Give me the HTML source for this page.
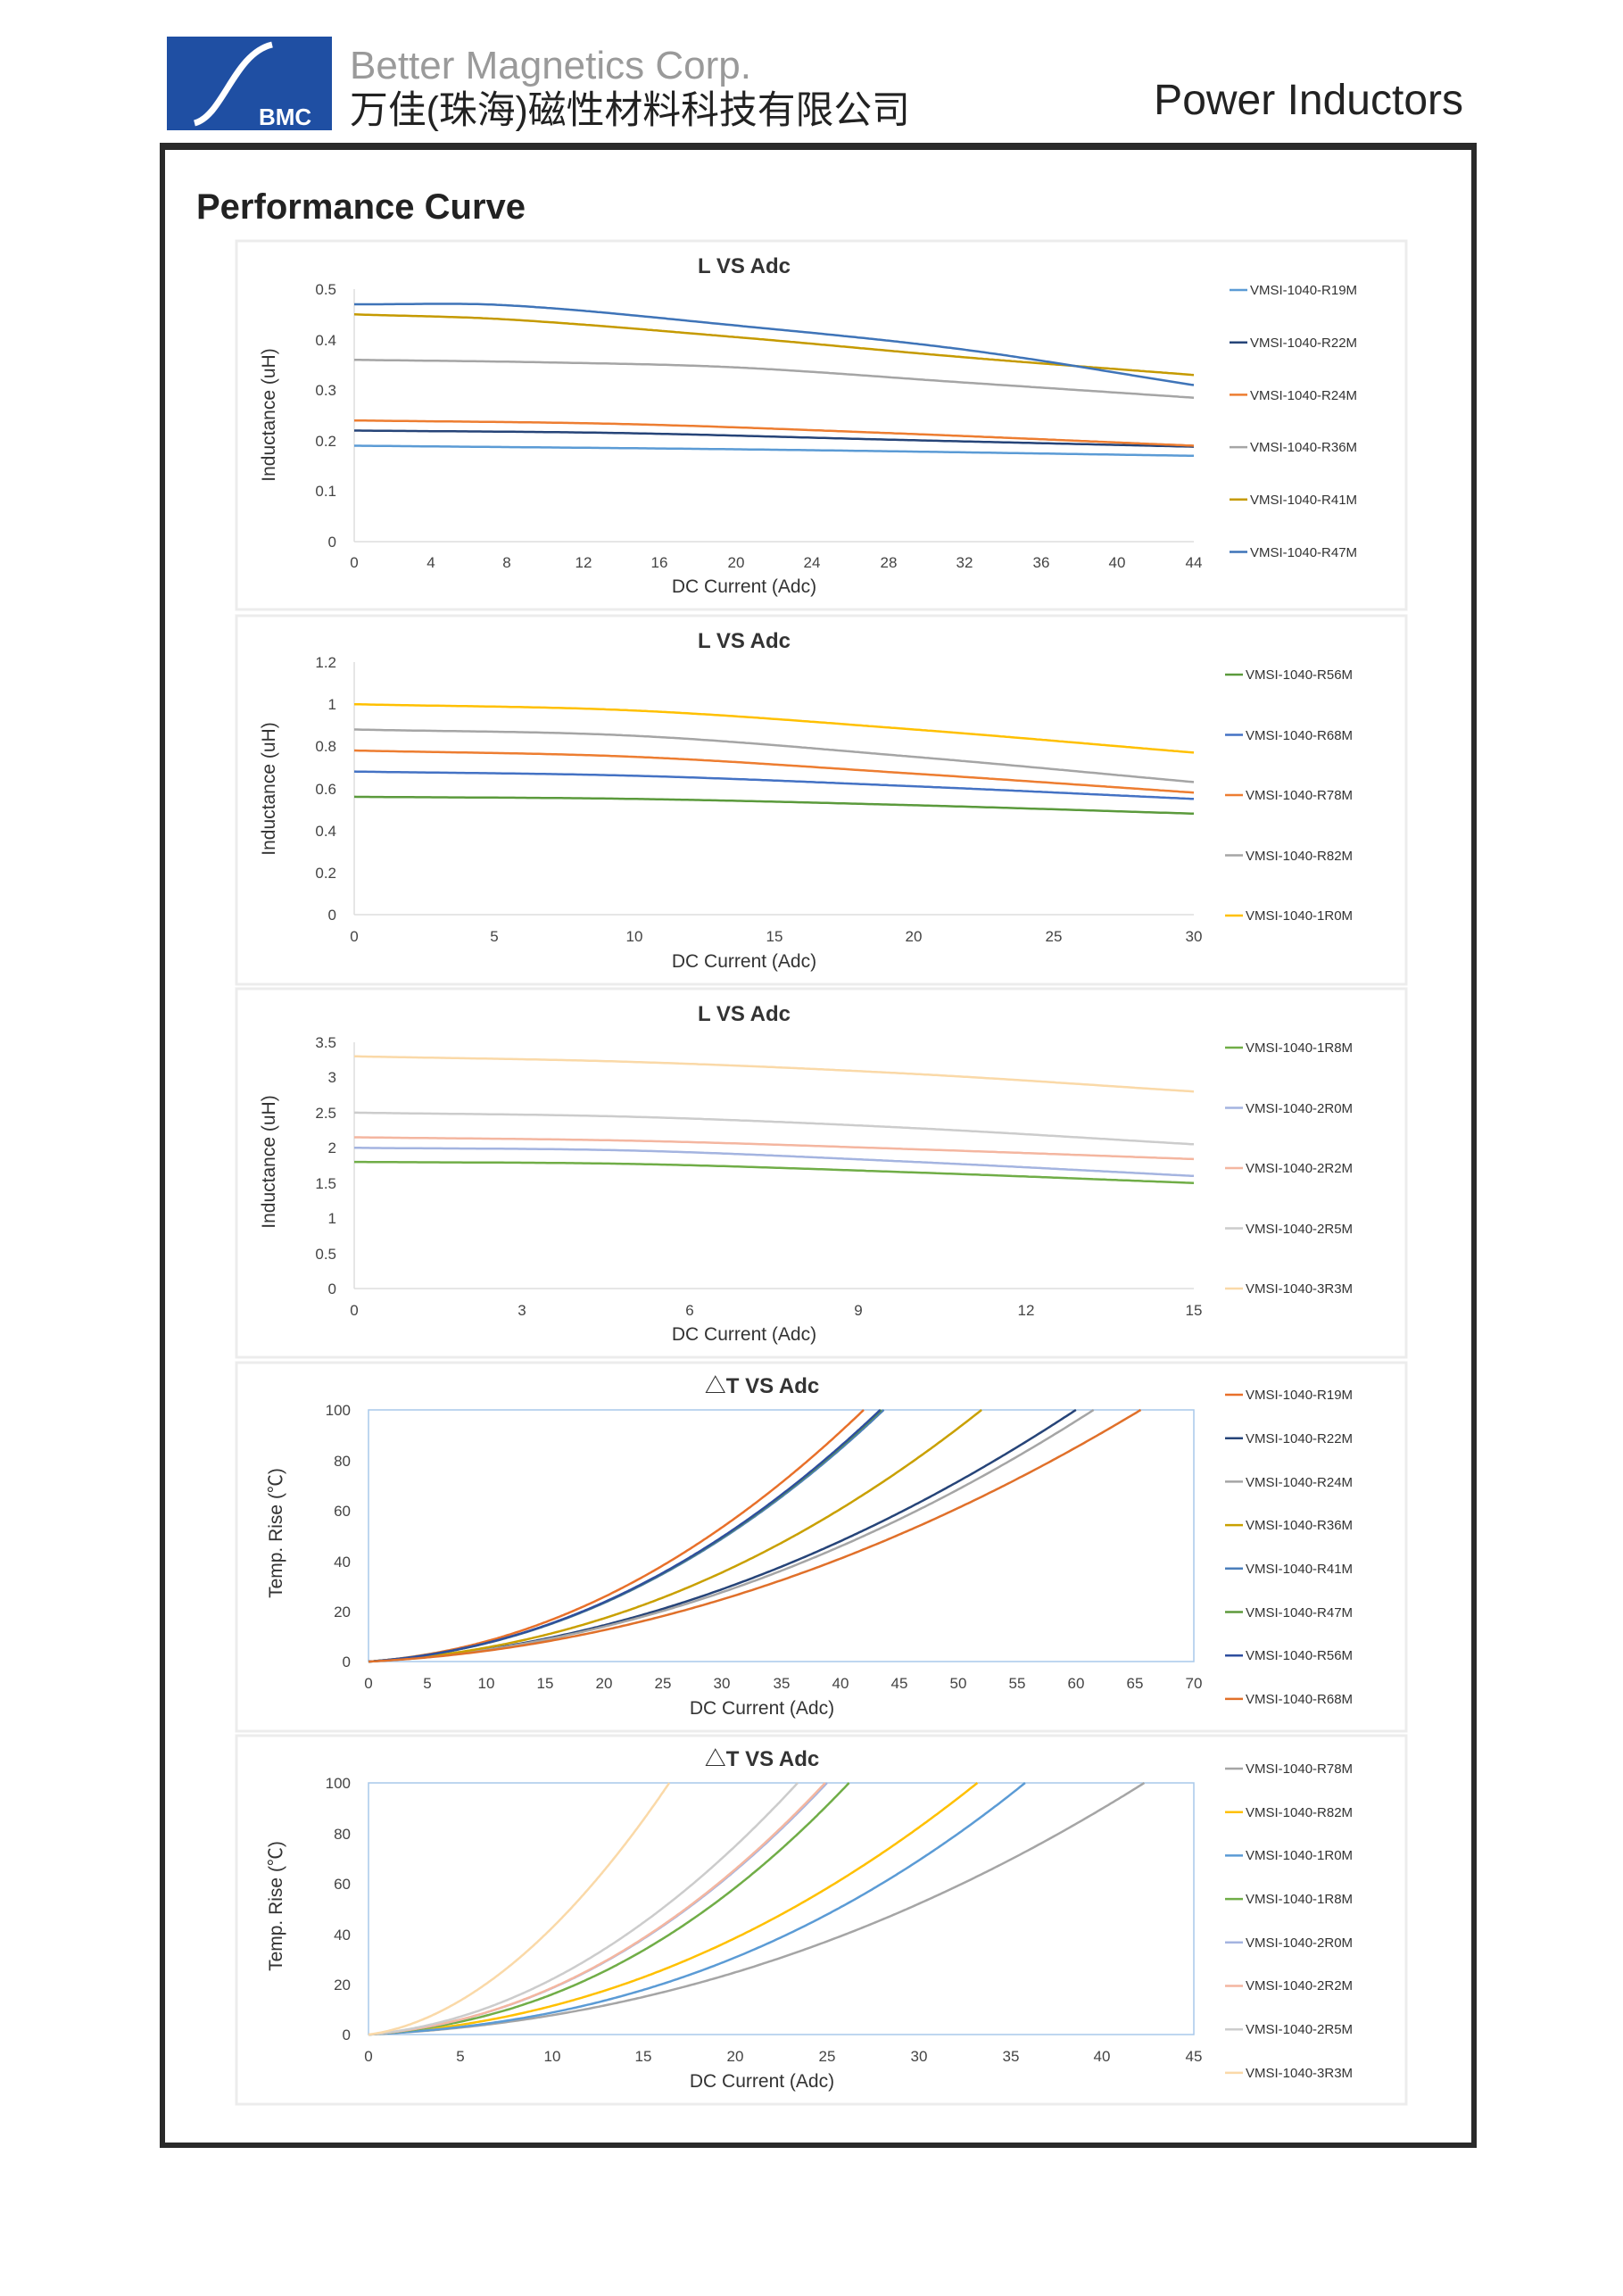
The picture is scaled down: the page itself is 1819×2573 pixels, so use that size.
<!DOCTYPE html>
<html><head><meta charset="utf-8"><style>
html,body{margin:0;padding:0;background:#fff}
svg{display:block}
text{font-family:"Liberation Sans","Noto Sans CJK SC",sans-serif}
.t{font-size:24px;font-weight:bold;fill:#333;text-anchor:middle}
.yl{font-size:17px;fill:#444;text-anchor:end}
.xl{font-size:17px;fill:#444;text-anchor:middle}
.at{font-size:21px;fill:#333;text-anchor:middle}
.lg{font-size:15px;fill:#333}
</style></head><body>
<svg id="s" width="1819" height="2573" viewBox="0 0 1819 2573" xmlns="http://www.w3.org/2000/svg">
<rect x="187" y="41" width="185" height="105" fill="#1f4fa3"/>
<path d="M218 138 C250 130 262 60 305 50" stroke="#fff" stroke-width="7" fill="none"/>
<text x="290" y="140" font-size="26" font-weight="bold" fill="#fff">BMC</text>
<text x="392" y="88" font-size="44" fill="#9a9a9a">Better Magnetics Corp.</text>
<text x="392" y="138" font-size="43" fill="#222" textLength="628" lengthAdjust="spacingAndGlyphs">万佳(珠海)磁性材料科技有限公司</text>
<text x="1640" y="128" font-size="48" fill="#222" text-anchor="end">Power Inductors</text>
<rect x="182" y="163" width="1470" height="2241" fill="#fff" stroke="#2a2a2a" stroke-width="6"/>
<rect x="179" y="160" width="1476" height="8" fill="#2a2a2a"/>
<text x="220" y="245" font-size="40" font-weight="bold" fill="#222">Performance Curve</text>
<g id="panels"></g>
<g>
<text class="t" x="834" y="306">L VS Adc</text>
<text class="t" x="834" y="726">L VS Adc</text>
<text class="t" x="834" y="1144">L VS Adc</text>
<text class="t" x="854" y="1561">△T VS Adc</text>
<text class="t" x="854" y="1979">△T VS Adc</text>
<text class="at" x="834" y="664">DC Current (Adc)</text>
<text class="at" x="834" y="1084">DC Current (Adc)</text>
<text class="at" x="834" y="1502">DC Current (Adc)</text>
<text class="at" x="854" y="1921">DC Current (Adc)</text>
<text class="at" x="854" y="2339">DC Current (Adc)</text>
<text class="at" transform="translate(308,465) rotate(-90)">Inductance (uH)</text>
<text class="at" transform="translate(308,884) rotate(-90)">Inductance (uH)</text>
<text class="at" transform="translate(308,1302) rotate(-90)">Inductance (uH)</text>
<text class="at" transform="translate(316,1718) rotate(-90)">Temp. Rise (℃)</text>
<text class="at" transform="translate(316,2136) rotate(-90)">Temp. Rise (℃)</text>
</g>
<g id="ticks">
<text class="yl" x="377" y="330">0.5</text><text class="yl" x="377" y="387">0.4</text><text class="yl" x="377" y="443">0.3</text><text class="yl" x="377" y="500">0.2</text><text class="yl" x="377" y="556">0.1</text><text class="yl" x="377" y="613">0</text>
<text class="xl" x="397" y="636">0</text><text class="xl" x="483" y="636">4</text><text class="xl" x="568" y="636">8</text><text class="xl" x="654" y="636">12</text><text class="xl" x="739" y="636">16</text><text class="xl" x="825" y="636">20</text><text class="xl" x="910" y="636">24</text><text class="xl" x="996" y="636">28</text><text class="xl" x="1081" y="636">32</text><text class="xl" x="1167" y="636">36</text><text class="xl" x="1252" y="636">40</text><text class="xl" x="1338" y="636">44</text>
<text class="yl" x="377" y="748">1.2</text><text class="yl" x="377" y="795">1</text><text class="yl" x="377" y="842">0.8</text><text class="yl" x="377" y="890">0.6</text><text class="yl" x="377" y="937">0.4</text><text class="yl" x="377" y="984">0.2</text><text class="yl" x="377" y="1031">0</text>
<text class="xl" x="397" y="1055">0</text><text class="xl" x="554" y="1055">5</text><text class="xl" x="711" y="1055">10</text><text class="xl" x="868" y="1055">15</text><text class="xl" x="1024" y="1055">20</text><text class="xl" x="1181" y="1055">25</text><text class="xl" x="1338" y="1055">30</text>
<text class="yl" x="377" y="1174">3.5</text><text class="yl" x="377" y="1213">3</text><text class="yl" x="377" y="1253">2.5</text><text class="yl" x="377" y="1292">2</text><text class="yl" x="377" y="1332">1.5</text><text class="yl" x="377" y="1371">1</text><text class="yl" x="377" y="1411">0.5</text><text class="yl" x="377" y="1450">0</text>
<text class="xl" x="397" y="1474">0</text><text class="xl" x="585" y="1474">3</text><text class="xl" x="773" y="1474">6</text><text class="xl" x="962" y="1474">9</text><text class="xl" x="1150" y="1474">12</text><text class="xl" x="1338" y="1474">15</text>
<text class="yl" x="393" y="1586">100</text><text class="yl" x="393" y="1643">80</text><text class="yl" x="393" y="1699">60</text><text class="yl" x="393" y="1756">40</text><text class="yl" x="393" y="1812">20</text><text class="yl" x="393" y="1868">0</text>
<text class="xl" x="413" y="1892">0</text><text class="xl" x="479" y="1892">5</text><text class="xl" x="545" y="1892">10</text><text class="xl" x="611" y="1892">15</text><text class="xl" x="677" y="1892">20</text><text class="xl" x="743" y="1892">25</text><text class="xl" x="809" y="1892">30</text><text class="xl" x="876" y="1892">35</text><text class="xl" x="942" y="1892">40</text><text class="xl" x="1008" y="1892">45</text><text class="xl" x="1074" y="1892">50</text><text class="xl" x="1140" y="1892">55</text><text class="xl" x="1206" y="1892">60</text><text class="xl" x="1272" y="1892">65</text><text class="xl" x="1338" y="1892">70</text>
<text class="yl" x="393" y="2004">100</text><text class="yl" x="393" y="2061">80</text><text class="yl" x="393" y="2117">60</text><text class="yl" x="393" y="2174">40</text><text class="yl" x="393" y="2230">20</text><text class="yl" x="393" y="2286">0</text>
<text class="xl" x="413" y="2310">0</text><text class="xl" x="516" y="2310">5</text><text class="xl" x="619" y="2310">10</text><text class="xl" x="721" y="2310">15</text><text class="xl" x="824" y="2310">20</text><text class="xl" x="927" y="2310">25</text><text class="xl" x="1030" y="2310">30</text><text class="xl" x="1133" y="2310">35</text><text class="xl" x="1235" y="2310">40</text><text class="xl" x="1338" y="2310">45</text>
</g>
<g id="legend">
<text class="lg" x="1401" y="330">VMSI-1040-R19M</text><text class="lg" x="1401" y="389">VMSI-1040-R22M</text><text class="lg" x="1401" y="448">VMSI-1040-R24M</text><text class="lg" x="1401" y="506">VMSI-1040-R36M</text><text class="lg" x="1401" y="565">VMSI-1040-R41M</text><text class="lg" x="1401" y="624">VMSI-1040-R47M</text>
<text class="lg" x="1396" y="761">VMSI-1040-R56M</text><text class="lg" x="1396" y="829">VMSI-1040-R68M</text><text class="lg" x="1396" y="896">VMSI-1040-R78M</text><text class="lg" x="1396" y="964">VMSI-1040-R82M</text><text class="lg" x="1396" y="1031">VMSI-1040-1R0M</text>
<text class="lg" x="1396" y="1179">VMSI-1040-1R8M</text><text class="lg" x="1396" y="1247">VMSI-1040-2R0M</text><text class="lg" x="1396" y="1314">VMSI-1040-2R2M</text><text class="lg" x="1396" y="1382">VMSI-1040-2R5M</text><text class="lg" x="1396" y="1449">VMSI-1040-3R3M</text>
<text class="lg" x="1396" y="1568">VMSI-1040-R19M</text><text class="lg" x="1396" y="1617">VMSI-1040-R22M</text><text class="lg" x="1396" y="1666">VMSI-1040-R24M</text><text class="lg" x="1396" y="1714">VMSI-1040-R36M</text><text class="lg" x="1396" y="1763">VMSI-1040-R41M</text><text class="lg" x="1396" y="1812">VMSI-1040-R47M</text><text class="lg" x="1396" y="1860">VMSI-1040-R56M</text><text class="lg" x="1396" y="1909">VMSI-1040-R68M</text>
<text class="lg" x="1396" y="1987">VMSI-1040-R78M</text><text class="lg" x="1396" y="2036">VMSI-1040-R82M</text><text class="lg" x="1396" y="2084">VMSI-1040-1R0M</text><text class="lg" x="1396" y="2133">VMSI-1040-1R8M</text><text class="lg" x="1396" y="2182">VMSI-1040-2R0M</text><text class="lg" x="1396" y="2230">VMSI-1040-2R2M</text><text class="lg" x="1396" y="2279">VMSI-1040-2R5M</text><text class="lg" x="1396" y="2328">VMSI-1040-3R3M</text>
</g>
<g id="lines"></g>
</svg>
<script>
var NS="http://www.w3.org/2000/svg";
function el(p,n,a){var e=document.createElementNS(NS,n);for(var k in a)e.setAttribute(k,a[k]);p.appendChild(e);return e;}
var P=document.getElementById('panels'),L=document.getElementById('lines'),S=document.getElementById('s');
S.insertBefore(P,S.children[7]);
[270,690,1108,1527,1945].forEach(function(t){el(P,'rect',{x:265,y:t,width:1311,height:413,fill:'#fff',stroke:'#ececec','stroke-width':3});});
function interp(p,x){var n=p.length;for(var i=0;i<n-1;i++){if(x<=p[i+1][0]||i==n-2){
 var a=p[i],b=p[i+1],h=b[0]-a[0],u=(x-a[0])/h;
 var m0=i>0?(b[1]-p[i-1][1])/(b[0]-p[i-1][0]):(b[1]-a[1])/h;
 var m1=i<n-2?(p[i+2][1]-a[1])/(p[i+2][0]-a[0]):(b[1]-a[1])/h;
 var u2=u*u,u3=u2*u;
 return (2*u3-3*u2+1)*a[1]+(u3-2*u2+u)*h*m0+(-2*u3+3*u2)*b[1]+(u3-u2)*h*m1;}}}
function chart(c){
 if(c.box) el(L,'rect',{x:c.x0,y:c.yt,width:c.x1-c.x0,height:c.yb-c.yt,fill:'none',stroke:'#a9c9ea','stroke-width':1.5});
 else{el(L,'line',{x1:c.x0,y1:c.yt,x2:c.x0,y2:c.yb,stroke:'#ddd','stroke-width':1.5});el(L,'line',{x1:c.x0,y1:c.yb,x2:c.x1,y2:c.yb,stroke:'#ddd','stroke-width':1.5});}
 c.s.forEach(function(s,i){
  var d='';
  var xmax=s.pts?c.xm:s.X;
  for(var k=0;k<=300;k++){var x=xmax*k/300,y;
   if(s.pts)y=interp(s.pts,x);else{var r=x/s.X;y=100*(0.15*r+0.85*Math.pow(r,s.p||2));}
   var px=c.x0+(c.x1-c.x0)*x/c.xm,py=c.yb-(c.yb-c.yt)*y/c.ym;d+=(k?'L':'M')+px.toFixed(1)+' '+py.toFixed(1);}
  el(L,'path',{d:d,fill:'none',stroke:s.c,'stroke-width':2.5});
  var ly=c.ly0+i*c.ld;el(L,'line',{x1:c.lx,y1:ly,x2:c.lx+20,y2:ly,stroke:s.c,'stroke-width':2.5});
 });
}
chart({x0:397,x1:1338,yt:324,yb:607,xm:44,ym:0.5,lx:1378,ly0:325,ld:58.7,s:[
 {c:'#5b9bd5',pts:[[0,0.19],[22,0.182],[44,0.17]]},
 {c:'#264478',pts:[[0,0.22],[14,0.215],[28,0.202],[44,0.188]]},
 {c:'#ed7d31',pts:[[0,0.24],[14,0.233],[28,0.215],[44,0.19]]},
 {c:'#a5a5a5',pts:[[0,0.36],[10,0.355],[20,0.345],[32,0.315],[44,0.285]]},
 {c:'#c59a00',pts:[[0,0.45],[8,0.44],[20,0.405],[32,0.365],[44,0.33]]},
 {c:'#3f74b8',pts:[[0,0.47],[8,0.468],[20,0.428],[32,0.38],[44,0.31]]}]});
chart({x0:397,x1:1338,yt:742,yb:1025,xm:30,ym:1.2,lx:1373,ly0:756,ld:67.5,s:[
 {c:'#5b9a3c',pts:[[0,0.56],[10,0.55],[20,0.52],[30,0.48]]},
 {c:'#4472c4',pts:[[0,0.68],[10,0.66],[20,0.61],[30,0.55]]},
 {c:'#ed7d31',pts:[[0,0.78],[10,0.75],[20,0.67],[30,0.58]]},
 {c:'#a5a5a5',pts:[[0,0.88],[10,0.85],[20,0.75],[30,0.63]]},
 {c:'#ffc000',pts:[[0,1.0],[10,0.97],[20,0.88],[30,0.77]]}]});
chart({x0:397,x1:1338,yt:1168,yb:1444,xm:15,ym:3.5,lx:1373,ly0:1174,ld:67.5,s:[
 {c:'#70ad47',pts:[[0,1.8],[5,1.77],[10,1.65],[15,1.5]]},
 {c:'#a4b4e0',pts:[[0,2.0],[5,1.96],[10,1.8],[15,1.6]]},
 {c:'#f4b6a0',pts:[[0,2.15],[5,2.1],[10,1.98],[15,1.84]]},
 {c:'#cccccc',pts:[[0,2.5],[5,2.44],[10,2.28],[15,2.05]]},
 {c:'#fad9a8',pts:[[0,3.3],[5,3.22],[10,3.05],[15,2.8]]}]});
chart({box:1,x0:413,x1:1338,yt:1580,yb:1862,xm:70,ym:100,lx:1373,ly0:1563,ld:48.7,s:[
 {c:'#e8702a',X:42,p:2.05},{c:'#264478',X:60,p:2},{c:'#a5a5a5',X:61.5,p:2},{c:'#c9a000',X:52,p:2.1},
 {c:'#4a7ebb',X:43.7,p:2.1},{c:'#5e9a3c',X:43.5,p:2.1},{c:'#2e4e9e',X:43.4,p:2.1},{c:'#e0702a',X:65.5,p:2}]});
chart({box:1,x0:413,x1:1338,yt:1998,yb:2280,xm:45,ym:100,lx:1373,ly0:1982,ld:48.7,s:[
 {c:'#a5a5a5',X:42.3,p:2.1},{c:'#ffc000',X:33.2,p:2.1},{c:'#5b9bd5',X:35.8,p:2.3},{c:'#70ad47',X:26.2,p:2.2},
 {c:'#a4b4e0',X:25,p:2.1},{c:'#f4b6a0',X:24.9,p:2.1},{c:'#cccccc',X:23.4,p:2},{c:'#fad9a8',X:16.4,p:1.9}]});
</script>
</body></html>
